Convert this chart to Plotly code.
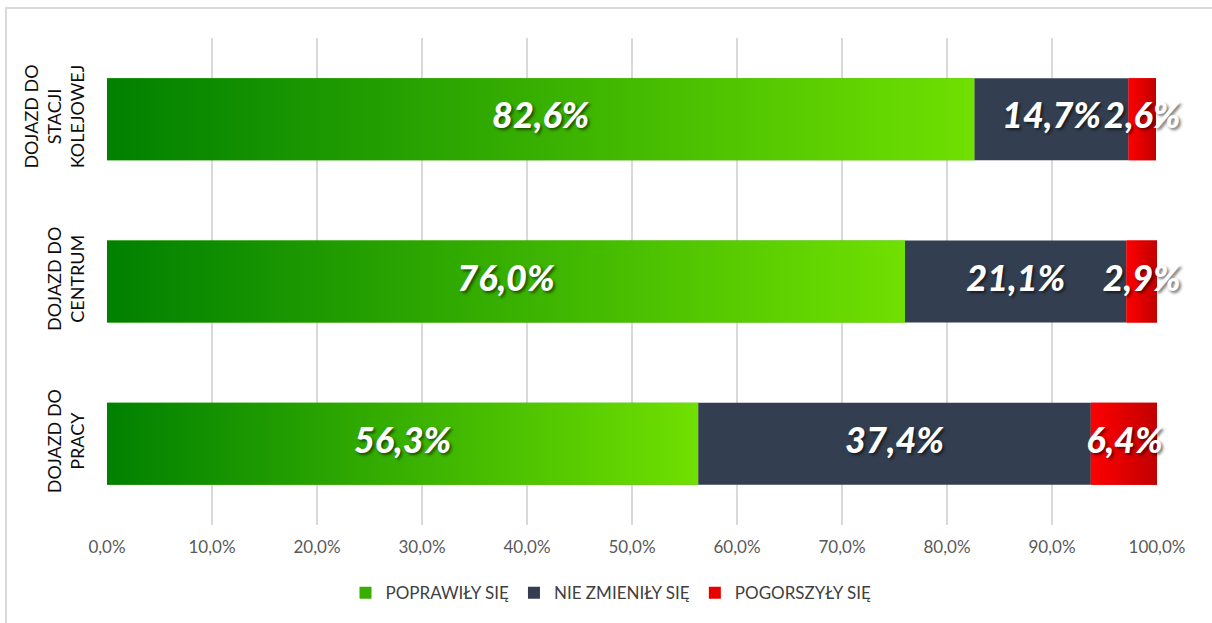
import plotly.graph_objects as go

categories = ["DOJAZD DO<br>PRACY", "DOJAZD DO<br>CENTRUM", "DOJAZD DO<br>STACJI<br>KOLEJOWEJ"]
series_names = ["POPRAWIŁY SIĘ", "NIE ZMIENIŁY SIĘ", "POGORSZYŁY SIĘ"]
improved = [56.3, 76.0, 82.6]
unchanged = [37.4, 21.1, 14.7]
worse = [6.4, 2.9, 2.6]
tick_values = [0, 10, 20, 30, 40, 50, 60, 70, 80, 90, 100]
tick_labels = ["0,0%", "10,0%", "20,0%", "30,0%", "40,0%", "50,0%", "60,0%", "70,0%", "80,0%", "90,0%", "100,0%"]

GREEN_SCALE = [[0, "#008000"], [1, "#70E000"]]
RED_SCALE = [[0, "#FF0000"], [1, "#C00000"]]
NAVY = "#333F50"
BAR_W = 0.505

ypos = list(range(len(categories)))
fig = go.Figure()

series = [improved, unchanged, worse]
colors = ["#3AAE00", NAVY, "#E80000"]
bases = [[0] * 3, improved, [a + b for a, b in zip(improved, unchanged)]]
for name, vals, col, base in zip(series_names, series, colors, bases):
    fig.add_trace(go.Bar(
        y=ypos, x=vals, base=base, orientation="h", name=name,
        width=BAR_W, marker=dict(color=col, line=dict(width=0)),
        hoverinfo="skip",
    ))

# gradient overlays for green and red segments
for vals, base, scale in [(improved, bases[0], GREEN_SCALE), (worse, bases[2], RED_SCALE)]:
    for i, (v, b) in enumerate(zip(vals, base)):
        y0, y1 = ypos[i] - BAR_W / 2, ypos[i] + BAR_W / 2
        fig.add_trace(go.Scatter(
            x=[b, b + v, b + v, b, b], y=[y0, y0, y1, y1, y0],
            mode="lines", line=dict(width=0), fill="toself",
            fillgradient=dict(type="horizontal", colorscale=scale),
            showlegend=False, hoverinfo="skip",
        ))

# data labels
lab_x, lab_y, lab_t = [], [], []
for vals, base in zip(series, bases):
    for i, (v, b) in enumerate(zip(vals, base)):
        lab_x.append(b + v / 2)
        lab_y.append(ypos[i])
        lab_t.append(f"{v:.1f}%".replace(".", ","))
fig.add_trace(go.Scatter(
    x=lab_x, y=lab_y, text=lab_t, mode="text", textposition="middle center",
    textfont=dict(family="Lato", size=36, color="white", weight=900, style="italic",
                  shadow="2px 2px 3px rgba(0,0,0,0.55)"),
    showlegend=False, hoverinfo="skip", cliponaxis=False,
))

fig.update_layout(
    width=1212, height=623,
    margin=dict(l=107, r=55, t=38, b=98),
    paper_bgcolor="white", plot_bgcolor="white",
    barmode="overlay",
    showlegend=True,
    legend=dict(orientation="h", x=0.48, xanchor="center", y=-0.14, yanchor="middle",
                font=dict(family="Lato", size=17, color="#404040"),
                itemwidth=30, traceorder="normal"),
    xaxis=dict(range=[0, 100], tickvals=tick_values, ticktext=tick_labels,
               showgrid=True, gridcolor="#D9D9D9", gridwidth=2,
               zeroline=False, showline=False, ticks="",
               ticklabelstandoff=10,
               tickfont=dict(family="Lato", size=17, color="#595959")),
    yaxis=dict(range=[-0.5, 2.5], tickvals=ypos, ticktext=categories,
               tickangle=-90, showgrid=False, zeroline=False, showline=False,
               ticklabelstandoff=18,
               tickfont=dict(family="Lato", size=18, color="#0D0D0D")),
    shapes=[dict(type="rect", xref="paper", yref="paper",
                 x0=(6 - 107) / 1050, x1=1.1, y0=-0.3, y1=(525 - 8) / 487,
                 line=dict(color="#D9D9D9", width=2), fillcolor="rgba(0,0,0,0)",
                 layer="below")],
)

fig.write_html("out.html", config={"displayModeBar": False},
               post_script="document.body.style.margin='0';document.body.style.overflow='hidden';")
